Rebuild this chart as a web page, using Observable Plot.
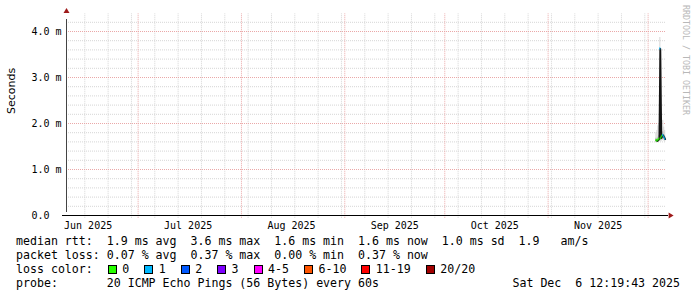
<!DOCTYPE html>
<html><head><meta charset="utf-8">
<script src="https://cdn.jsdelivr.net/npm/d3@7"></script>
<script src="https://cdn.jsdelivr.net/npm/@observablehq/plot@0.6"></script>
<style>
html,body{margin:0;padding:0;background:#fff;}
#wrap{position:relative;width:697px;height:297px;overflow:hidden;background:#fff;}
#legend{position:absolute;left:16px;top:234px;width:664px;font-family:"DejaVu Sans Mono";font-size:11.6px;line-height:14px;white-space:pre;color:#000;}
#legend .row{position:relative;height:14px;}
#legend .sw{display:inline-block;width:7px;height:7px;border:1px solid #000;margin:0 5.5px 0 1px;vertical-align:-1px;}
#legend .date{position:absolute;right:0;top:0;}
#wm{position:absolute;left:682px;top:5px;writing-mode:vertical-rl;font-family:"DejaVu Sans Mono";font-size:8.3px;color:#b8b8b8;white-space:pre;line-height:8px;}
</style></head>
<body><div id="wrap"><div id="chart"></div><div id="legend"></div><div id="wm">RRDTOOL / TOBI OETIKER</div></div>
<script>
// ---- data ----
const endTime = new Date("2025-12-06T12:19:43Z");
const spanDays = 180;
const sampleTimes = ["2025-12-03T12:00Z","2025-12-03T19:00Z","2025-12-04T02:00Z","2025-12-04T09:00Z","2025-12-04T16:00Z",
                     "2025-12-04T23:00Z","2025-12-05T06:00Z","2025-12-05T13:00Z","2025-12-05T20:00Z","2025-12-06T03:00Z"];
const medianRtt = [1.63, 1.62, 1.64, 1.66, 3.62, 1.68, 1.72, 1.74, 1.70, 1.66];   // ms
const lossCount = [0, 0, 0, 0, 1, 0, 0, 1, 1, 1];                                 // lost pings of 20
const pingLow   = [1.58, 1.58, 1.59, 1.60, 1.62, 1.60, 1.62, 1.63, 1.62, 1.60];
const pingHigh  = [1.80, 1.85, 1.95, 2.00, 3.87, 1.95, 1.90, 2.07, 1.92, 1.85];
const innerLow  = [1.60, 1.60, 1.61, 1.62, 1.66, 1.63, 1.65, 1.67, 1.66, 1.63];
const innerHigh = [1.68, 1.66, 1.70, 1.74, 3.62, 1.75, 1.78, 1.82, 1.76, 1.72];

const lossLabels = ["0","1","2","3","4-5","6-10","11-19","20/20"];
const lossUpper  = [0, 1, 2, 3, 5, 10, 19, 20];
const lossColors = ["#26ff00","#00b8ff","#0059ff","#7e00ff","#ff00ff","#ff5500","#ff0000","#a10000"];

const yMajorTicks = [0, 1, 2, 3, 4];
const yTickLabels = ["0.0", "1.0 m", "2.0 m", "3.0 m", "4.0 m"];
const monthTickLabels = ["Jun 2025","Jul 2025","Aug 2025","Sep 2025","Oct 2025","Nov 2025"];

const rttStats = [["1.9","ms avg"],["3.6","ms max"],["1.6","ms min"],["1.6","ms now"],["1.0","ms sd"]];
const rttAms = "1.9";
const lossStats = [["0.07","% avg"],["0.37","% max"],["0.00","% min"],["0.37","% now"]];
const probeText = "20 ICMP Echo Pings (56 Bytes) every 60s";
const dateText = "Sat Dec  6 12:19:43 2025";

// ---- build ----
const startTime = new Date(+endTime - spanDays * 864e5);
const halfStep = 3.6 * 3600e3;
const lossIndex = n => lossUpper.findIndex(u => n <= u);
const rows = sampleTimes.map((s, i) => {
  const t = new Date(s);
  return {t, x1: new Date(+t - halfStep), x2: new Date(+t + halfStep),
          median: medianRtt[i], loss: lossCount[i], lo: pingLow[i], hi: pingHigh[i],
          ilo: innerLow[i], ihi: innerHigh[i]};
});
const yTop = 200 / 46;
const yMinor = d3.range(1, 22).map(k => k * 0.2).filter(v => Math.abs(v - Math.round(v)) > 0.01 && v < yTop);
const weeks = d3.utcSunday.range(startTime, endTime);
const months = d3.utcMonth.range(startTime, endTime);
const labelTimes = d3.utcMonth.range(d3.utcMonth.floor(startTime), endTime)
  .map(d => d3.utcDay.offset(d, 15)).filter(d => d >= startTime && d <= endTime);

const upTri = {draw(c){ c.moveTo(0,-2.6); c.lineTo(3,2.4); c.lineTo(-3,2.4); c.closePath(); }};
const rightTri = {draw(c){ c.moveTo(2.6,0); c.lineTo(-2.4,-3); c.lineTo(-2.4,3); c.closePath(); }};
const arrowColor = "#9e1a1a";
const minorColor = "#d6d6d6";
const majorColor = "#eaa8a8";

const chart = Plot.plot({
  width: 697, height: 234,
  marginLeft: 66, marginRight: 31, marginTop: 15, marginBottom: 19,
  style: {fontFamily: "DejaVu Sans Mono", fontSize: "10px", background: "white", overflow: "visible", color: "#000"},
  x: {type: "utc", domain: [startTime, endTime]},
  y: {domain: [0, yTop]},
  marks: [
    Plot.ruleY(yMinor, {x1: startTime, x2: endTime, stroke: minorColor, strokeDasharray: "1,1"}),
    Plot.ruleX(weeks, {y1: -0.06, y2: yTop + 0.04, stroke: minorColor, strokeDasharray: "1,1"}),
    Plot.ruleY(yMajorTicks.filter(v => v > 0), {x1: startTime, x2: endTime, stroke: majorColor, strokeDasharray: "1,1"}),
    Plot.ruleX(months, {y1: -0.06, y2: yTop + 0.04, stroke: majorColor, strokeDasharray: "1,1"}),
    // smoke
    Plot.rect(rows, {x1: "x1", x2: "x2", y1: "lo", y2: "hi", fill: "#d6d6d6"}),
    Plot.rect(rows, {x1: "x1", x2: "x2", y1: "ilo", y2: "ihi", fill: "#b4b4b4"}),
    // median
    Plot.line(rows, {x: "t", y: "median", stroke: "#151515", strokeWidth: 1.8}),
    Plot.rect(rows, {x1: "x1", x2: "x2", y1: d => d.median - 0.025, y2: d => d.median + 0.025,
                     fill: d => lossColors[lossIndex(d.loss)]}),
    // axes
    Plot.axisY({ticks: yMajorTicks, tickSize: 0, tickPadding: 5, label: null,
                tickFormat: d => yTickLabels[yMajorTicks.indexOf(d)].padEnd(5, "\u00a0")}),
    Plot.axisX({ticks: labelTimes, tickSize: 0, tickPadding: 6.5, label: null,
                tickFormat: d => monthTickLabels[labelTimes.findIndex(t => +t === +d)]}),
    Plot.text(["Seconds"], {frameAnchor: "left", text: d => d, rotate: -90, dx: -55, dy: -1.5,
                            fontFamily: "DejaVu Sans", fontSize: 11}),
    Plot.ruleY([0], {x1: startTime, x2: endTime, stroke: "#000", insetLeft: -4, insetRight: -2}),
    Plot.ruleX([startTime], {y1: 0, y2: yTop, stroke: "#444", insetTop: -3, insetBottom: -4}),
    Plot.dot([startTime], {x: d => d, y: yTop, dy: -5, symbol: upTri, r: 3, fill: arrowColor, stroke: null}),
    Plot.dot([endTime], {x: d => d, y: 0, dx: 4.5, symbol: rightTri, r: 3, fill: arrowColor, stroke: null})
  ]
});
document.getElementById("chart").appendChild(chart);

// ---- legend ----
const legend = document.getElementById("legend");
const esc = s => s.replace(/&/g,"&amp;").replace(/</g,"&lt;");
let l1 = "median rtt:  " + rttStats.map(([v,u]) => v + " " + u).join("  ") + "  " + rttAms + "   am/s";
let l2 = "packet loss: " + lossStats.map(([v,u]) => v + " " + u).join("  ");
let l3 = "loss color:  " + lossLabels.map((lab, i) =>
  `<span class="sw" style="background:${lossColors[i]}"></span>${esc(lab)}`).join("  ");
let l4 = "probe:       " + esc(probeText) + `<span class="date">${esc(dateText)}</span>`;
legend.innerHTML = [esc(l1), esc(l2), l3, l4].map(s => `<div class="row">${s}</div>`).join("");
</script>
</body></html>
